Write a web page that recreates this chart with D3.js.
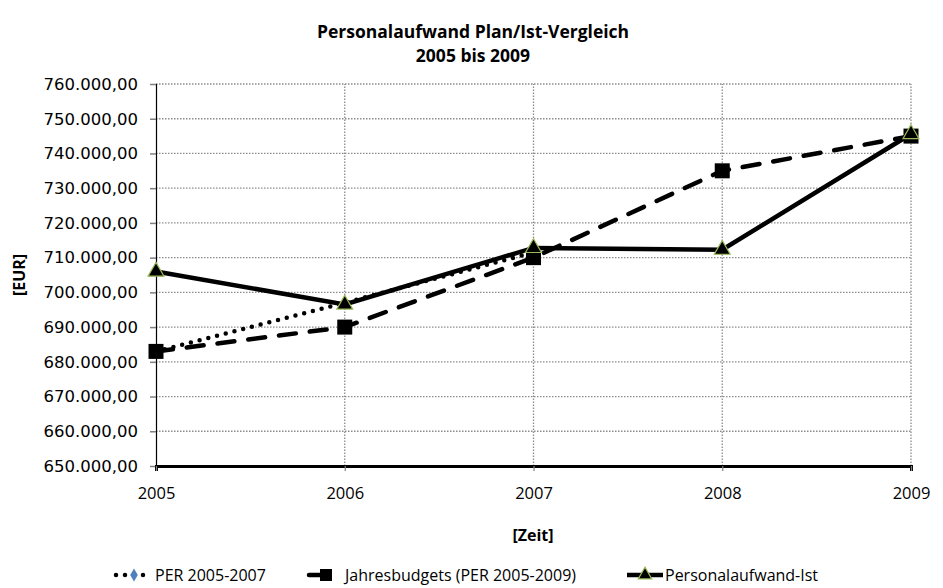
<!DOCTYPE html>
<html>
<head>
<meta charset="utf-8">
<script src="https://cdn.jsdelivr.net/npm/d3@7"></script>
<style>
  body { margin: 0; background: #fff; }
  .txt { font-family: "Open Sans", sans-serif; }
</style>
</head>
<body>
<div id="chart"></div>
<script>
// data
const years = [2005, 2006, 2007, 2008, 2009];
const perYears = [2005, 2006, 2007];
const perValues = [683000, 697000, 711500];
const budgetValues = [683000, 690000, 710000, 735000, 745000];
const istValues = [706000, 696500, 712800, 712300, 745600];
const yTicks = [650000, 660000, 670000, 680000, 690000, 700000, 710000, 720000, 730000, 740000, 750000, 760000];
const legendLabels = ["PER 2005-2007", "Jahresbudgets (PER 2005-2009)", "Personalaufwand-Ist"];

const width = 943, height = 588;
const margin = ({top: 84, right: 32, bottom: 122, left: 156});

const de = d3.formatLocale({decimal: ",", thousands: ".", grouping: [3], currency: ["", " €"]});
const fmt = de.format(",.2f");

var svg = d3.select("#chart").append("svg")
    .attr("width", width)
    .attr("height", height);

const x = d3.scaleLinear()
    .domain([2005, 2009])
    .range([margin.left, width - margin.right]);

const y = d3.scaleLinear()
    .domain([650000, 760000])
    .range([height - margin.bottom, margin.top]);

// grid
svg.append("g")
    .selectAll("line")
    .data(yTicks.slice(1))
    .join("line")
    .attr("x1", x(2005)).attr("x2", x(2009))
    .attr("y1", d => y(d)).attr("y2", d => y(d))
    .attr("stroke", "#8c8c8c")
    .attr("stroke-width", 1.3)
    .attr("stroke-dasharray", "1.5,1.5");

svg.append("g")
    .selectAll("line")
    .data(years.slice(1))
    .join("line")
    .attr("x1", d => x(d)).attr("x2", d => x(d))
    .attr("y1", y(650000)).attr("y2", y(760000))
    .attr("stroke", "#8c8c8c")
    .attr("stroke-width", 1.3)
    .attr("stroke-dasharray", "1.5,1.5");

// y axis
const yAxis = svg.append("g")
    .attr("transform", `translate(${margin.left},0)`)
    .call(d3.axisLeft(y).tickValues(yTicks).tickFormat(fmt).tickSize(6).tickPadding(12));
yAxis.select(".domain").attr("stroke", "#000").attr("stroke-width", 1.2);
yAxis.selectAll(".tick line").attr("stroke", "#808080").attr("stroke-width", 1.5);
yAxis.selectAll(".tick text")
    .attr("fill", "#000")
    .style("font-family", "'DejaVu Sans', Verdana, sans-serif")
    .style("font-size", "16.5px");

// x axis
const xAxis = svg.append("g")
    .attr("transform", `translate(0,${y(650000)})`)
    .call(d3.axisBottom(x).tickValues(years).tickFormat(d3.format("d")).tickSize(5).tickPadding(16));
xAxis.select(".domain").attr("stroke", "#000").attr("stroke-width", 3);
xAxis.selectAll(".tick line").attr("stroke", "#808080").attr("stroke-width", 1.2);
xAxis.selectAll(".tick text")
    .attr("fill", "#000")
    .attr("class", "txt")
    .style("font-size", "16.5px");

// titles
svg.append("text")
    .attr("class", "txt")
    .attr("x", 473).attr("y", 38)
    .attr("text-anchor", "middle")
    .style("font-size", "17.5px").style("font-weight", "bold")
    .text("Personalaufwand Plan/Ist-Vergleich");
svg.append("text")
    .attr("class", "txt")
    .attr("x", 473).attr("y", 62)
    .attr("text-anchor", "middle")
    .style("font-size", "17.5px").style("font-weight", "bold")
    .text("2005 bis 2009");

svg.append("text")
    .attr("class", "txt")
    .attr("x", 533).attr("y", 541)
    .attr("text-anchor", "middle")
    .style("font-size", "16px").style("font-weight", "bold")
    .text("[Zeit]");

svg.append("text")
    .attr("class", "txt")
    .attr("transform", "translate(25,275) rotate(-90)")
    .attr("text-anchor", "middle")
    .style("font-size", "16px").style("font-weight", "bold")
    .text("[EUR]");

// lines
const line = d3.line().x(d => x(d[0])).y(d => y(d[1]));

svg.append("path")
    .datum(d3.zip(perYears, perValues))
    .attr("d", line)
    .attr("fill", "none")
    .attr("stroke", "#000")
    .attr("stroke-width", 4.5)
    .attr("stroke-linecap", "round")
    .attr("stroke-dasharray", "0,9");

svg.append("g")
    .selectAll("path")
    .data(d3.zip(perYears, perValues))
    .join("path")
    .attr("transform", d => `translate(${x(d[0])},${y(d[1])})`)
    .attr("d", d3.symbol(d3.symbolDiamond, 60))
    .attr("fill", "#4f81bd");

svg.append("path")
    .datum(d3.zip(years, budgetValues))
    .attr("d", line)
    .attr("fill", "none")
    .attr("stroke", "#000")
    .attr("stroke-width", 4.5)
    .attr("stroke-linecap", "round")
    .attr("stroke-dasharray", "17,14");

svg.append("g")
    .selectAll("rect")
    .data(d3.zip(years, budgetValues))
    .join("rect")
    .attr("x", d => x(d[0]) - 7.5)
    .attr("y", d => y(d[1]) - 7.5)
    .attr("width", 15).attr("height", 15)
    .attr("fill", "#000");

svg.append("path")
    .datum(d3.zip(years, istValues))
    .attr("d", line)
    .attr("fill", "none")
    .attr("stroke", "#000")
    .attr("stroke-width", 4.5);

svg.append("g")
    .selectAll("path")
    .data(d3.zip(years, istValues))
    .join("path")
    .attr("transform", d => `translate(${x(d[0])},${y(d[1])})`)
    .attr("d", d3.symbol(d3.symbolTriangle, 110))
    .attr("fill", "#000")
    .attr("stroke", "#9bbb59")
    .attr("stroke-width", 1.2);

// legend
const ly = 575;
const legend = svg.append("g");

legend.append("line")
    .attr("x1", 116).attr("x2", 152).attr("y1", ly).attr("y2", ly)
    .attr("stroke", "#000").attr("stroke-width", 4.5)
    .attr("stroke-linecap", "round").attr("stroke-dasharray", "0,9");
legend.append("path")
    .attr("transform", `translate(134,${ly})`)
    .attr("d", d3.symbol(d3.symbolDiamond, 50))
    .attr("fill", "#4f81bd");

legend.append("line")
    .attr("x1", 309).attr("x2", 326).attr("y1", ly).attr("y2", ly)
    .attr("stroke", "#000").attr("stroke-width", 4.5)
    .attr("stroke-linecap", "round");
legend.append("rect")
    .attr("x", 320).attr("y", ly - 6).attr("width", 12).attr("height", 12)
    .attr("fill", "#000");

legend.append("line")
    .attr("x1", 627).attr("x2", 663).attr("y1", ly).attr("y2", ly)
    .attr("stroke", "#000").attr("stroke-width", 4.5);
legend.append("path")
    .attr("transform", `translate(645,${ly})`)
    .attr("d", d3.symbol(d3.symbolTriangle, 80))
    .attr("fill", "#000").attr("stroke", "#9bbb59").attr("stroke-width", 1.2);

legend.selectAll("text")
    .data(legendLabels)
    .join("text")
    .attr("class", "txt")
    .attr("x", (d, i) => [155, 345, 665][i])
    .attr("y", ly)
    .attr("dy", "0.35em")
    .style("font-size", "16px")
    .text(d => d);
</script>
</body>
</html>
